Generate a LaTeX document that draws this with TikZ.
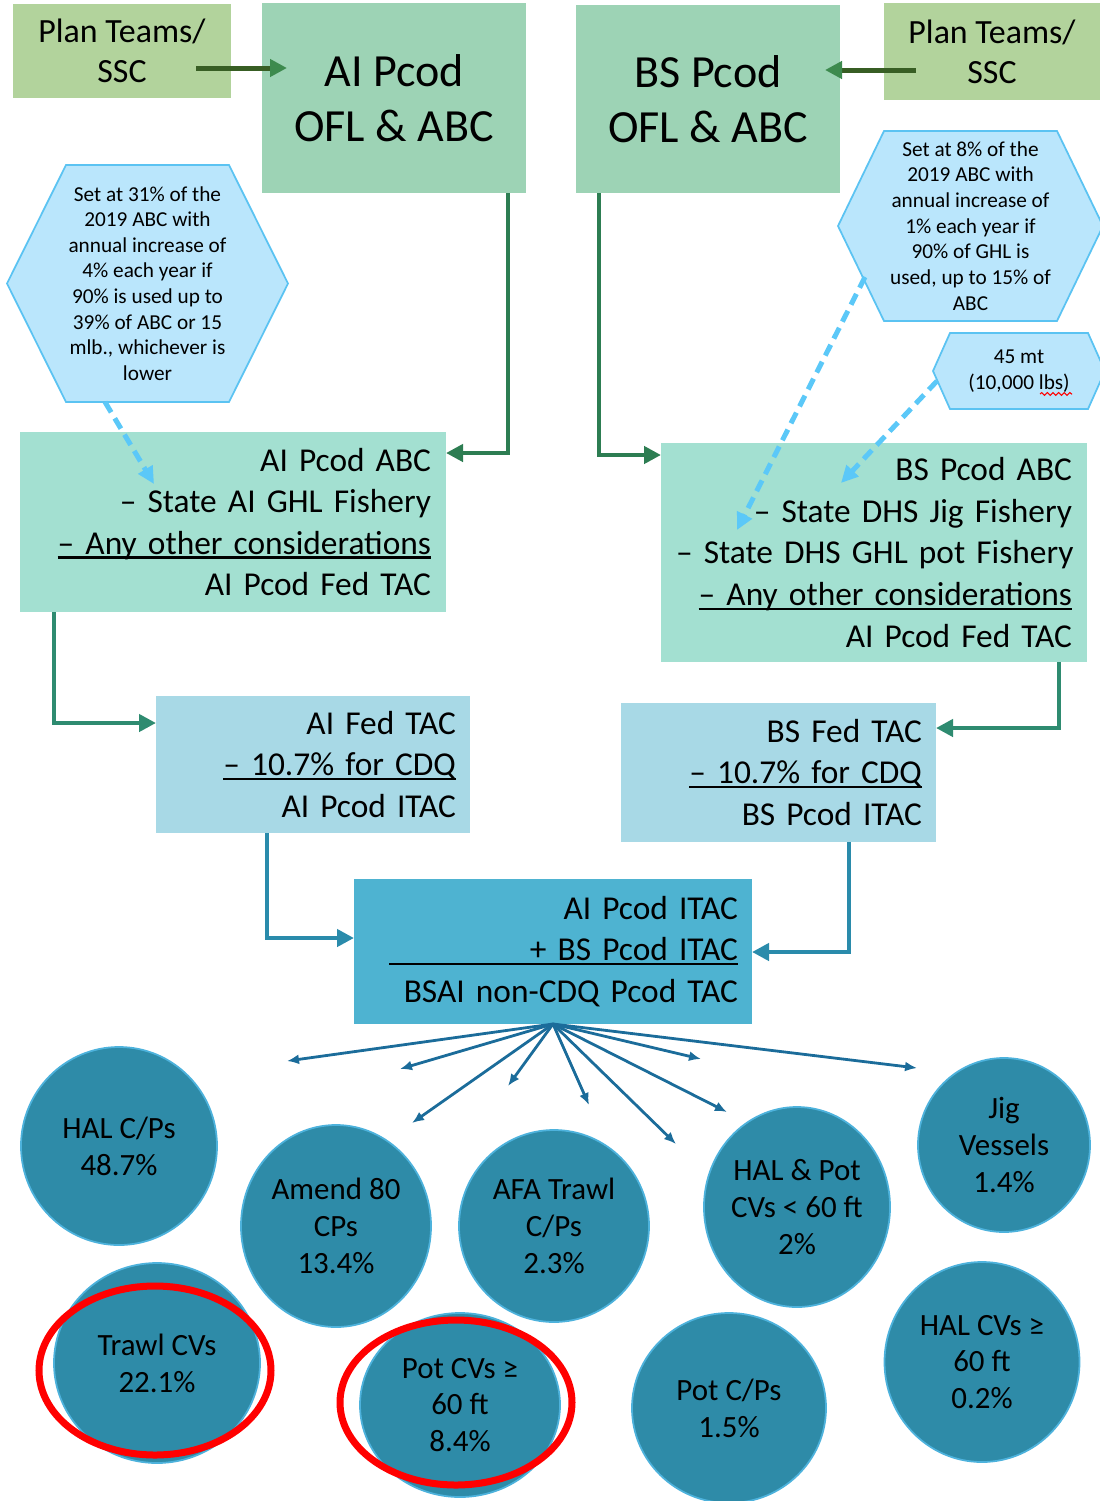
\documentclass[tikz,border=0pt]{standalone}
\usepackage{fontspec}
\setmainfont{Carlito}
\usetikzlibrary{arrows.meta,calc,shapes.geometric,backgrounds,decorations.pathmorphing}

\definecolor{plangreen}{RGB}{178,211,156}
\definecolor{oflgreen}{RGB}{157,211,181}
\definecolor{abcgreen}{RGB}{163,224,209}
\definecolor{fedblue}{RGB}{168,217,230}
\definecolor{itacblue}{RGB}{78,179,209}
\definecolor{sectorblue}{RGB}{46,139,168}
\definecolor{hexfill}{RGB}{186,230,252}
\definecolor{hexedge}{RGB}{91,195,242}
\definecolor{dashblue}{RGB}{91,200,248}
\definecolor{planline}{RGB}{56,94,36}
\definecolor{planhead}{RGB}{61,138,78}
\definecolor{oflline}{RGB}{45,125,82}
\definecolor{abcline}{RGB}{46,139,112}
\definecolor{fedline}{RGB}{42,139,171}
\definecolor{fanline}{RGB}{27,108,154}

% underline sitting close to the baseline
\newcommand{\ulin}[1]{\leavevmode\setbox0\hbox{#1}\rlap{\rule[-1.2pt]{\wd0}{0.6pt}}\box0}

\begin{document}
\begin{tikzpicture}
\tikzset{ >=latex, outer sep=0pt,
  plan/.style={fill=plangreen, inner sep=0pt, align=center, font=\fontsize{9.65}{11.4}\selectfont},
  ofl/.style={fill=oflgreen, inner sep=0pt, align=center, font=\fontsize{13.1}{15.65}\selectfont},
  calcbox/.style={inner ysep=0pt, align=right, font=\fontsize{9.5}{11.85}\selectfont},
  hextext/.style={inner sep=0pt, align=center, font=\fontsize{6.05}{7.3}\selectfont},
  hexline/.style={fill=hexfill, draw=hexedge, line width=0.5pt},
  sector/.style={ellipse, fill=sectorblue, draw=hexedge!70!sectorblue, line width=0.5pt, inner sep=0pt, align=center, font=\fontsize{8.8}{10.5}\selectfont},
  ring/.style={draw=red, line width=0.07cm},
  elbow/.style={line width=0.045cm, -{Triangle[length=0.17cm,width=0.17cm]}},
  planarrow/.style={planline, line width=0.05cm, -{Triangle[length=0.17cm,width=0.17cm,color=planhead]}},
  dasharrow/.style={dashblue, line width=0.05cm, dash pattern=on 0.12cm off 0.07cm, -{Triangle[length=0.17cm,width=0.16cm]}},
  fan/.style={fanline, line width=0.028cm, -{Latex[length=0.12cm,width=0.1cm]}},
}
\useasboundingbox (0,0) rectangle (10.99,-15.01);

%%% Boxes

% Plan Teams / SSC
\node[plan, minimum width=2.18cm, minimum height=0.94cm] (PLNai) at (1.22,-0.51) {Plan Teams/\\SSC};
\node[plan, minimum width=2.16cm, minimum height=0.97cm] (PLNbs) at (9.92,-0.515) {Plan Teams/\\SSC};

% OFL & ABC
\node[ofl, minimum width=2.64cm, minimum height=1.90cm] (OFLai) at (3.94,-0.98) {AI Pcod\\OFL \& ABC};
\node[ofl, minimum width=2.64cm, minimum height=1.88cm] (OFLbs) at (7.08,-0.99) {BS Pcod\\OFL \& ABC};

% ABC -> Fed TAC
\node[calcbox, fill=abcgreen, inner xsep=0.15cm, text width=3.96cm, minimum height=1.80cm] (ABCai) at (2.33,-5.22)
  {AI Pcod ABC\\– State AI GHL Fishery\\\ulin{– Any other considerations}\\AI Pcod Fed TAC};
\node[calcbox, fill=abcgreen, inner xsep=0.15cm, text width=3.96cm, minimum height=2.19cm] (ABCbs) at (8.74,-5.525)
  {BS Pcod ABC\\– State DHS Jig Fishery\\\mbox{– State DHS GHL pot Fishery}\\\ulin{– Any other considerations}\\AI Pcod Fed TAC};

% Fed TAC -> ITAC
\node[calcbox, fill=fedblue, inner xsep=0.14cm, text width=2.86cm, minimum height=1.37cm] (FEDai) at (3.13,-7.645)
  {AI Fed TAC\\\ulin{– 10.7\% for CDQ}\\AI Pcod ITAC};
\node[calcbox, fill=fedblue, inner xsep=0.14cm, text width=2.87cm, minimum height=1.39cm] (FEDbs) at (7.785,-7.725)
  {BS Fed TAC\\\ulin{– 10.7\% for CDQ}\\BS Pcod ITAC};

% BSAI non-CDQ TAC
\node[calcbox, fill=itacblue, inner xsep=0.14cm, text width=3.70cm, minimum height=1.45cm] (ITAC) at (5.53,-9.515)
  {AI Pcod ITAC\\\ulin{\makebox[3.49cm][r]{+ BS Pcod ITAC}}\\BSAI non-CDQ Pcod TAC};

% notes (hexagons)
\node[hextext, minimum width=2.81cm, minimum height=2.37cm] (HEXai) at (1.475,-2.835)
  {Set at 31\% of the\\2019 ABC with\\annual increase of\\4\% each year if\\90\% is used up to\\39\% of ABC or 15\\mlb., whichever is\\lower};
\node[hextext, minimum width=2.65cm, minimum height=1.90cm] (HEXbs) at (9.705,-2.26)
  {Set at 8\% of the\\2019 ABC with\\annual increase of\\1\% each year if\\90\% of GHL is\\used, up to 15\% of\\ABC};
\node[hextext, minimum width=1.72cm, minimum height=0.76cm] (HEXsm) at (10.19,-3.71)
  {45 mt\\(10,000 lbs)};
\begin{scope}[on background layer]
\draw[hexline] (HEXai.west) -- ([xshift=0.59cm]HEXai.north west) -- ([xshift=-0.59cm]HEXai.north east) -- (HEXai.east) -- ([xshift=-0.59cm]HEXai.south east) -- ([xshift=0.59cm]HEXai.south west) -- cycle;
\draw[hexline] (HEXbs.west) -- ([xshift=0.46cm]HEXbs.north west) -- ([xshift=-0.46cm]HEXbs.north east) -- (HEXbs.east) -- ([xshift=-0.46cm]HEXbs.south east) -- ([xshift=0.46cm]HEXbs.south west) -- cycle;
\draw[hexline] (HEXsm.west) -- ([xshift=0.17cm]HEXsm.north west) -- ([xshift=-0.17cm]HEXsm.north east) -- (HEXsm.east) -- ([xshift=-0.17cm]HEXsm.south east) -- ([xshift=0.17cm]HEXsm.south west) -- cycle;
\end{scope}
\draw[red, line width=0.3pt, decorate, decoration={snake, amplitude=0.4pt, segment length=1.6pt}] ($(HEXsm)+(0.21,-0.23)$) -- ($(HEXsm)+(0.53,-0.23)$);

% sectors
\node[sector, minimum width=1.96cm, minimum height=1.98cm] (HALcp) at (1.19,-11.46) {HAL C/Ps\\48.7\%};
\node[sector, minimum width=1.90cm, minimum height=2.02cm] (A80) at (3.36,-12.26) {Amend 80\\CPs\\13.4\%};
\node[sector, minimum width=1.90cm, minimum height=1.92cm] (AFA) at (5.54,-12.26) {AFA Trawl\\C/Ps\\2.3\%};
\node[sector, minimum width=1.86cm, minimum height=2.00cm] (HALpot) at (7.97,-12.07) {HAL \& Pot\\CVs < 60 ft\\2\%};
\node[sector, minimum width=1.72cm, minimum height=1.74cm] (Jig) at (10.04,-11.45) {Jig\\Vessels\\1.4\%};
\node[sector, minimum width=2.06cm, minimum height=2.00cm] (TrawlCV) at (1.57,-13.63) {Trawl CVs\\22.1\%};
\node[sector, minimum width=2.00cm, minimum height=1.84cm] (PotCV) at (4.60,-14.05) {Pot CVs ≥\\60 ft\\8.4\%};
\node[sector, minimum width=1.94cm, minimum height=1.90cm] (PotCP) at (7.29,-14.08) {Pot C/Ps\\1.5\%};
\node[sector, minimum width=1.95cm, minimum height=2.00cm] (HALCV) at (9.82,-13.62) {HAL CVs ≥\\60 ft\\0.2\%};

% red marks
\draw[ring] ($(TrawlCV)+(-0.02,-0.075)$) ellipse (1.16cm and 0.845cm);
\draw[ring] ($(PotCV)+(-0.04,0.025)$) ellipse (1.16cm and 0.825cm);

%%% Lines

% Plan Teams -> OFL & ABC
\draw[planarrow] ($(PLNai.east)+(-0.35,-0.17)$) -- ($(PLNai.east -| OFLai.west)+(0.25,-0.17)$);
\draw[planarrow] ($(PLNbs.west)+(0.32,-0.185)$) -- ($(PLNbs.west -| OFLbs.east)+(-0.15,-0.185)$);

% OFL & ABC -> ABC boxes
\draw[elbow, oflline] ([xshift=-0.18cm]OFLai.south east) |- ([yshift=-0.21cm]ABCai.north east);
\draw[elbow, oflline] ([xshift=0.23cm]OFLbs.south west) |- ([yshift=-0.12cm]ABCbs.north west);

% ABC boxes -> Fed TAC
\draw[elbow, abcline] ([xshift=0.34cm]ABCai.south west) |- ([yshift=-0.27cm]FEDai.north west);
\draw[elbow, abcline] ([xshift=-0.28cm]ABCbs.south east) |- ([yshift=-0.25cm]FEDbs.north east);

% Fed TAC -> BSAI
\draw[elbow, fedline] ([xshift=1.11cm]FEDai.south west) |- ([yshift=-0.59cm]ITAC.north west);
\draw[elbow, fedline] ([xshift=-0.87cm]FEDbs.south east) |- ([yshift=-0.73cm]ITAC.north east);

% State fisheries (dashed)
\draw[dasharrow] ([xshift=-0.425cm]HEXai.south) -- ($(ABCai.north west)+(1.34,-0.52)$);
\draw[dasharrow] ($(HEXbs.center)+(-1.055,-0.51)$) -- ($(ABCbs.north west)+(0.76,-0.87)$);
\draw[dasharrow] ([xshift=0.04cm,yshift=-0.1cm]HEXsm.west) -- ($(ABCbs.north west)+(1.80,-0.40)$);

% BSAI -> sectors
\foreach \n/\ex/\ey in {1/2.87/10.61, 2/4.00/10.69, 3/5.08/10.86, 4/4.12/11.23, 5/5.89/11.05, 6/6.76/11.44, 7/7.27/11.12, 8/7.01/10.59, 9/9.17/10.68}
{
  \coordinate (fan\n) at (\ex,-\ey);
  \draw[fan] (ITAC.south) -- (fan\n);
}

\end{tikzpicture}
\end{document}
